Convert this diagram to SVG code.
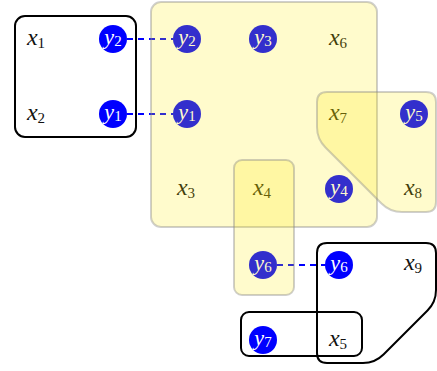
<svg xmlns="http://www.w3.org/2000/svg" width="437" height="371" viewBox="0 0 437 371">
<style>
.v{font-family:"Liberation Serif","DejaVu Serif",serif;font-style:italic;font-size:24px;fill:#111;text-anchor:middle}
.w{font-family:"Liberation Serif","DejaVu Serif",serif;font-style:italic;font-size:22px;fill:#fff;text-anchor:middle}
.s{font-style:normal;font-size:15px}
.dot{fill:#0000ff}
.hy{fill:rgb(255,235,0);fill-opacity:0.2;stroke:#888;stroke-opacity:0.4;stroke-width:2}
.hb{fill:none;stroke:#000;stroke-width:2}
.dash{stroke:#0000ff;stroke-width:2;stroke-dasharray:6,5;fill:none}
</style>
<rect width="437" height="371" fill="#fff"/>
<g id="connectors">
<line class="dash" x1="127" y1="39" x2="173" y2="39"/>
<line class="dash" x1="127" y1="114" x2="173" y2="114"/>
<line class="dash" x1="277" y1="265" x2="325" y2="265"/>
</g>
<g id="x1"><text class="v" x="36" y="45">x<tspan class="s" dy="3">1</tspan></text></g>
<g id="x2"><text class="v" x="36" y="120">x<tspan class="s" dy="3">2</tspan></text></g>
<g id="y2a"><circle class="dot" cx="113" cy="39" r="14"/><text class="w" x="113" y="44">y<tspan class="s" dy="2">2</tspan></text></g>
<g id="y1a"><circle class="dot" cx="113" cy="114" r="14"/><text class="w" x="113" y="119">y<tspan class="s" dy="2">1</tspan></text></g>
<g id="y2b"><circle class="dot" cx="187" cy="39" r="14"/><text class="w" x="187" y="44">y<tspan class="s" dy="2">2</tspan></text></g>
<g id="y3"><circle class="dot" cx="263" cy="39" r="14"/><text class="w" x="263" y="44">y<tspan class="s" dy="2">3</tspan></text></g>
<g id="x6"><text class="v" x="338" y="45">x<tspan class="s" dy="3">6</tspan></text></g>
<g id="y1b"><circle class="dot" cx="187" cy="114" r="14"/><text class="w" x="187" y="119">y<tspan class="s" dy="2">1</tspan></text></g>
<g id="x7"><text class="v" x="338" y="120">x<tspan class="s" dy="3">7</tspan></text></g>
<g id="y5"><circle class="dot" cx="414" cy="114" r="14"/><text class="w" x="414" y="119">y<tspan class="s" dy="2">5</tspan></text></g>
<g id="x3"><text class="v" x="186" y="195">x<tspan class="s" dy="3">3</tspan></text></g>
<g id="x4"><text class="v" x="262" y="195">x<tspan class="s" dy="3">4</tspan></text></g>
<g id="y4"><circle class="dot" cx="339" cy="189" r="14"/><text class="w" x="339" y="194">y<tspan class="s" dy="2">4</tspan></text></g>
<g id="x8"><text class="v" x="413" y="195">x<tspan class="s" dy="3">8</tspan></text></g>
<g id="y6a"><circle class="dot" cx="263" cy="265" r="14"/><text class="w" x="263" y="270">y<tspan class="s" dy="2">6</tspan></text></g>
<g id="y6b"><circle class="dot" cx="339" cy="265" r="14"/><text class="w" x="339" y="270">y<tspan class="s" dy="2">6</tspan></text></g>
<g id="x9"><text class="v" x="413" y="270">x<tspan class="s" dy="3">9</tspan></text></g>
<g id="y7"><circle class="dot" cx="263" cy="340" r="14"/><text class="w" x="263" y="345">y<tspan class="s" dy="2">7</tspan></text></g>
<g id="x5"><text class="v" x="338" y="346">x<tspan class="s" dy="3">5</tspan></text></g>
<g id="edges">
<rect class="hy" x="151" y="2" width="226" height="225" rx="10"/>
<rect class="hy" x="234" y="160" width="60" height="135" rx="8"/>
<path class="hy" d="M327 92H426Q436 92 436 102V202Q436 212 426 212H402Q390 212 381.5 203.5L325.5 147.5Q317 139 317 127V102Q317 92 327 92Z"/>
<rect class="hb" x="15" y="16" width="121" height="121" rx="10"/>
<rect class="hb" x="241" y="312" width="121" height="44" rx="8"/>
<path class="hb" d="M327 243H426Q436 243 436 253V290Q436 302 427.5 310.5L383.5 354.5Q375 363 363 363H327Q317 363 317 353V253Q317 243 327 243Z"/>
</g>
</svg>
